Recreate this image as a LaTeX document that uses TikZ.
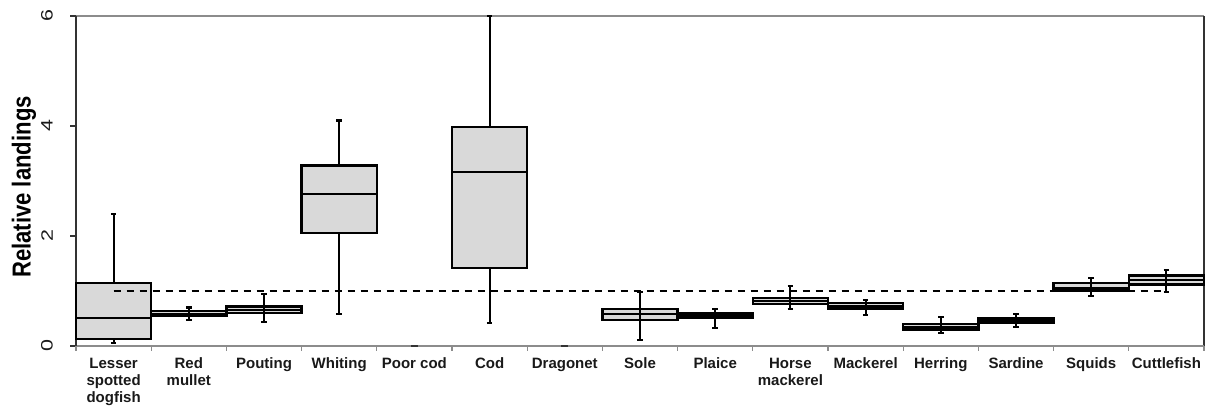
\documentclass[tikz,border=0pt]{standalone}
\usepackage{fontspec}
\setmainfont{Liberation Sans}
\definecolor{boxgray}{HTML}{D9D9D9}
\definecolor{axisgray}{HTML}{8C8C8C}
\begin{document}
\begin{tikzpicture}[x=1pt,y=-1pt,
  boxst/.style={draw=black,line width=2.3pt,fill=boxgray},
  medst/.style={draw=black,line width=2.2pt},
  whisk/.style={draw=black,line width=2.1pt},
  refline/.style={draw=black,line width=2.1pt,dash pattern=on 7pt off 6pt},
  cat/.style={font=\bfseries\fontsize{15}{17}\selectfont,align=center,anchor=north,inner sep=0pt,text=black!90},
  ticklab/.style={font=\fontsize{16.5}{18}\selectfont,rotate=90,inner sep=0pt,text=black!90},
  axlab/.style={font=\bfseries\fontsize{26}{30}\selectfont,rotate=90,inner sep=0pt,text=black}]
\useasboundingbox (0,0) rectangle (1206,407);
% frame and axes
\draw[axisgray,line width=1.3pt] (70,16) -- (1204,16);
\draw[black!80,line width=1.5pt] (1204,16) -- (1204,346);
\draw[axisgray,line width=1.2pt] (70,346) -- (1204,346);
\draw[black!80,line width=1.3pt] (76,16) -- (76,346);
\foreach \v in {0,2,4,6}{
  \draw[black!80,line width=1.1pt] (70,{346-55*\v}) -- (76,{346-55*\v});
  \node[ticklab] (t\v) at (47,{346-55*\v}) {\scalebox{1.3}[1]{\v}};
}
\foreach \k in {0,...,15}{
  \draw[axisgray,line width=1.1pt] ({76+75.2*\k},346) -- ({76+75.2*\k},351);
}
\node[axlab] (ylab) at (24,187) {\scalebox{0.85}[1]{Relative landings}};
% boxes
\foreach \i/\lo/\qa/\md/\qb/\hi/\th in {
  0/0.06/0.13/0.51/1.14/2.4/0,
  1/0.48/0.55/0.58/0.64/0.70/1,
  2/0.43/0.60/0.65/0.72/0.95/1,
  3/0.58/2.05/2.76/3.28/4.1/0,
  5/0.42/1.42/3.17/3.98/6/0,
  7/0.11/0.47/0.58/0.67/0.99/1,
  8/0.32/0.52/0.555/0.59/0.67/1,
  9/0.67/0.76/0.82/0.87/1.09/1,
  10/0.56/0.67/0.72/0.78/0.84/1,
  11/0.24/0.30/0.35/0.40/0.52/1,
  12/0.34/0.42/0.46/0.50/0.58/1,
  13/0.91/1.01/1.05/1.14/1.23/1,
  14/0.98/1.12/1.20/1.28/1.38/1}{
  \pgfmathsetmacro\xl{76+75.2*\i}
  \pgfmathsetmacro\xr{\xl+75.2}
  \pgfmathsetmacro\xc{\xl+37.6}
  \pgfmathsetmacro\ylo{346-55*\lo}
  \pgfmathsetmacro\yqa{346-55*\qa}
  \pgfmathsetmacro\ymd{346-55*\md}
  \pgfmathsetmacro\yqb{346-55*\qb}
  \pgfmathsetmacro\yhi{346-55*\hi}
  \draw[boxst] (\xl,\yqb) rectangle (\xr,\yqa);
  \draw[medst] (\xl,\ymd) -- (\xr,\ymd);
  \ifnum\th=1
    \draw[whisk] (\xc,\yhi) -- (\xc,\ylo);
  \else
    \draw[whisk] (\xc,\yhi) -- (\xc,\yqb);
    \draw[whisk] (\xc,\yqa) -- (\xc,\ylo);
  \fi
  \draw[whisk] ({\xc-2.8},\yhi) -- ({\xc+2.8},\yhi);
  \draw[whisk] ({\xc-2.8},\ylo) -- ({\xc+2.8},\ylo);
}
% empty categories (Poor cod, Dragonet)
\foreach \i in {4,6}{
  \draw[black!80,line width=1.6pt] ({76+75.2*\i+34},346) -- ({76+75.2*\i+41},346);
}
% reference line at 1
\coordinate (r0) at (113.6,291);
\coordinate (r1) at (1166.4,291);
\draw[refline] (r0) -- (r1);
% category labels
\foreach \i/\t in {0/{Lesser\\spotted\\dogfish},1/{Red\\mullet},2/Pouting,3/Whiting,4/Poor cod,5/Cod,6/Dragonet,7/Sole,8/Plaice,9/{Horse\\mackerel},10/Mackerel,11/Herring,12/Sardine,13/Squids,14/Cuttlefish}{
  \node[cat] (c\i) at ({76+75.2*\i+37.6},357.5) {\t};
}
\end{tikzpicture}
\end{document}
